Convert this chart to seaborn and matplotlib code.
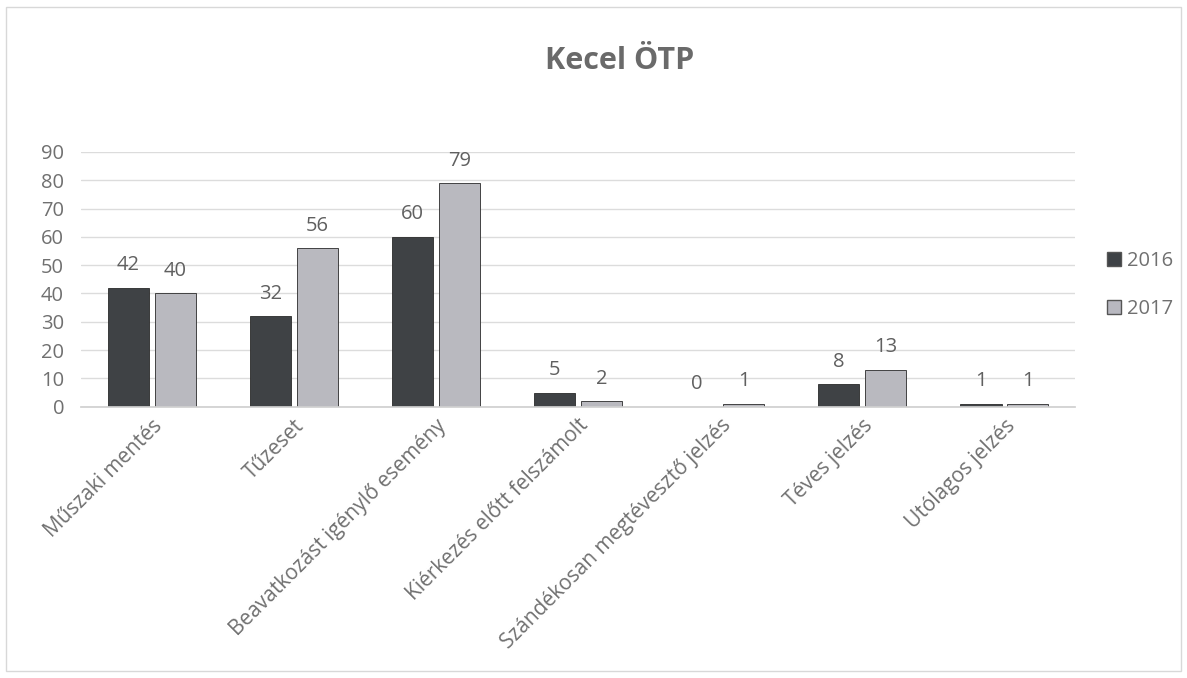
import matplotlib
matplotlib.use("Agg")
import matplotlib.pyplot as plt
import seaborn as sns
import pandas as pd
from matplotlib.patches import Patch

categories = ["Műszaki mentés", "Tűzeset", "Beavatkozást igénylő esemény",
              "Kiérkezés előtt felszámolt", "Szándékosan megtévesztő jelzés",
              "Téves jelzés", "Utólagos jelzés"]
values_2016 = [42, 32, 60, 5, 0, 8, 1]
values_2017 = [40, 56, 79, 2, 1, 13, 1]
series = ["2016", "2017"]
yticks = [0, 10, 20, 30, 40, 50, 60, 70, 80, 90]

df = pd.DataFrame({
    "cat": categories * 2,
    "val": values_2016 + values_2017,
    "year": [series[0]] * len(categories) + [series[1]] * len(categories),
})

sns.set_theme(style="white")
plt.rcParams['font.family'] = ['Open Sans', 'DejaVu Sans']

colors = {"2016": "#3e4246", "2017": "#b8b8c0"}
fig = plt.figure(figsize=(11.87, 6.78), dpi=100)
ax = fig.add_axes([0.068, 0.40, 0.838, 0.376])
sns.barplot(data=df, x="cat", y="val", hue="year", palette=colors,
            width=0.66, gap=0.12, ax=ax, legend=False,
            edgecolor="#2a2a2a", linewidth=0.6)
ax.set_ylim(0, 90)
ax.set_yticks(yticks)
ax.set_xlim(-0.5, len(categories) - 0.5)
ax.yaxis.grid(True, color="#dcdcdc", linewidth=1)
ax.set_axisbelow(True)
for s in ["top", "right", "left"]:
    ax.spines[s].set_visible(False)
ax.spines["bottom"].set_color("#d0d0d0")
ax.set_xlabel("")
ax.set_ylabel("")
ax.tick_params(axis="y", labelsize=14.5, colors="#707070", length=0, pad=12)
ax.tick_params(axis="x", labelsize=15, colors="#707070", length=0, pad=6)
ax.set_xticks(range(len(categories)))
ax.set_xticklabels(categories, rotation=45, ha="right", rotation_mode="anchor")

for cont in ax.containers:
    ax.bar_label(cont, labels=[f"{int(v)}" for v in cont.datavalues],
                 padding=9, fontsize=14.5, color="#606060")

handles = [Patch(facecolor=colors[s], edgecolor="#555555", label=s) for s in series]
fig.legend(handles=handles, loc="center left", bbox_to_anchor=(0.917, 0.58),
           frameon=False, fontsize=14.5, labelcolor="#707070",
           handlelength=0.7, handleheight=0.7, labelspacing=1.4, handletextpad=0.3)

fig.text(0.522, 0.91, "Kecel ÖTP", ha="center", va="center",
         fontsize=22, fontweight="bold", color="#6a6a6a")

fig.patches.append(plt.Rectangle((0.005, 0.01), 0.99, 0.98, transform=fig.transFigure,
                                 fill=False, edgecolor="#d8d8d8", linewidth=1))
fig.savefig("out.png", dpi=100)
